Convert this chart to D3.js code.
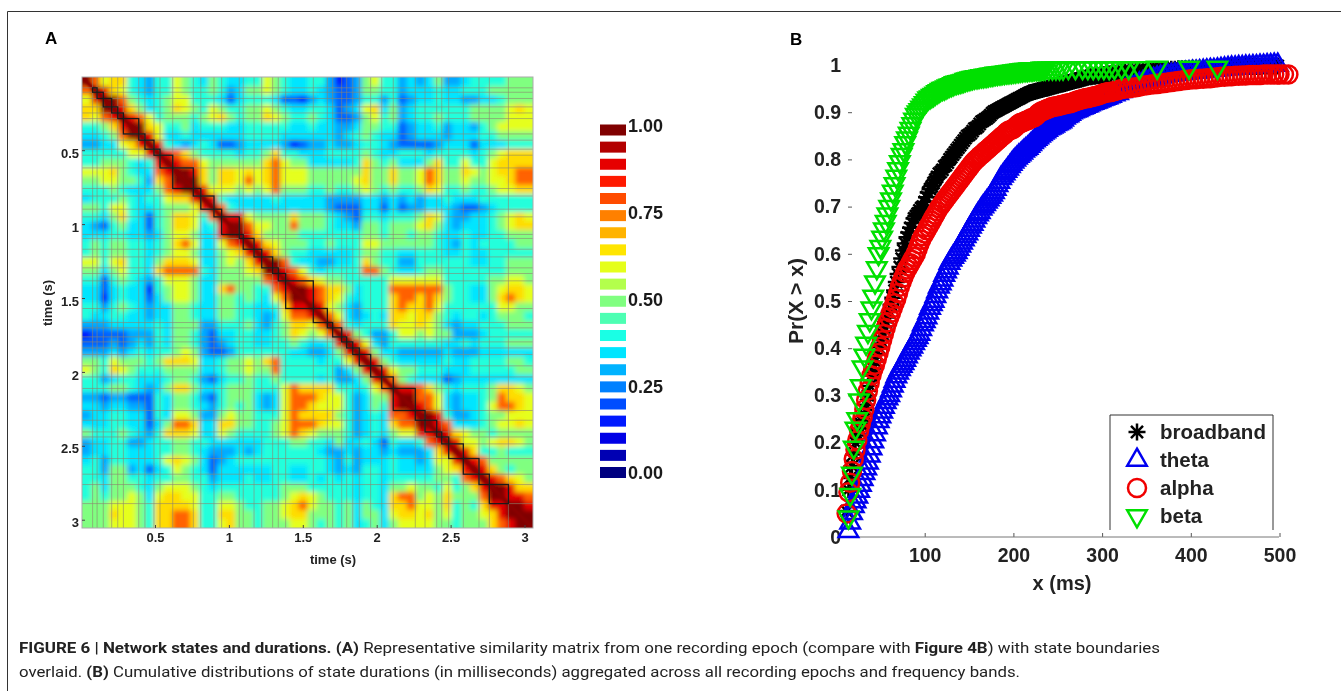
<!DOCTYPE html>
<html>
<head>
<meta charset="utf-8">
<script src="https://cdn.jsdelivr.net/npm/d3@7"></script>
<style>
html, body { margin: 0; padding: 0; background: #fff; }
svg { display: block; font-family: "Liberation Sans", Arial, sans-serif; filter: blur(0.45px); }
.caption { font-family: "Roboto", "Liberation Sans", sans-serif; font-size: 15px; fill: #222; }
</style>
</head>
<body>
<svg id="mainSvg" width="1341" height="691"></svg>
<script>
// upper triangle of the similarity matrix, one code per cell (row i starts at column i)
var similarityRows = [
"a867743244654354334465433" + "4420125644232352234444555",
"a97643244654454235565433" + "4321125544233343344455555",
"aa854345664443134443110" + "2321124424123343322334555",
"a975345765465445565433" + "4431236735234444445555676",
"a98645554567545576544" + "5431125645234454445555666",
"aa764453444334444433" + "4332235544123342332456666",
"a963343333334444333" + "3332345433123332333445555",
"a94323431123333201" + "2232234432111123331333444",
"a9875444434457443" + "3344445433444344443456777",
"a988655555578655" + "3333347545333574464467777",
"aa9757767678666" + "5555557557556875576567788",
"aa757768678666" + "5555567557556875565566788",
"a966656568555" + "4454456545445764454456677",
"a94333334333" + "3322223323232334333444444",
"a8433333333" + "3321113313122333211234444",
"a996555575" + "5543214434445763223345676",
"aa8665585" + "5543325545556753233345677",
"a9755554" + "4444445545545543343344555",
"a976555" + "4454446655555543243444455",
"a97544" + "3333345544334443343344444",
"aa843" + "3223347544224444443344555",
"a986" + "4344448854334554444444555",
"a98" + "7655444446666664444455665",
"aa" + "9877534448888885443356776",
"a" + "9876434447887875443357876",
"a965324447877864444446655",
"a86323437767754344345554",
"a8434447667653233444555",
"a954224665655222344444",
"a96324444443343444555",
"a953322222" + "3222333333",
"a954333334334444554",
"a96554443334444455",
"a8543331233333333",
"a998754344457765",
"aa8863233458776",
"a9863233468876",
"aa94223455666",
"a98333456676",
"a9765545555",
"a966567765",
"a97445444",
"a9855555",
"a975455",
"a98765",
"aa977",
"a998",
"aa9",
"aa",
"a"
];
// what each code above stands for
var levelValues = { "0": .14, "1": .22, "2": .29, "3": .35, "4": .41, "5": .5, "6": .6, "7": .66, "8": .78, "9": .9, "a": 1 };

// state boundaries in seconds, consecutive pairs are one black box
var stateEdges = [.078, .108, .15, .207, .248, .286, .39, .432, .493, .534, .62, .759, .81, .899, .951, 1.07, 1.097, 1.17, 1.222, 1.296, 1.334, 1.384, 1.571, 1.666, 1.702, 1.763, 1.797, 1.838, 1.882, 1.959, 2.034, 2.112, 2.261, 2.327, 2.406, 2.44, 2.487, 2.586, 2.692, 2.762, 2.891];

var timeTicks = [.5, 1, 1.5, 2, 2.5, 3];
var colorBarLevels = [1, .95, .9, .85, .8, .75, .7, .65, .6, .55, .5, .45, .4, .35, .3, .25, .2, .15, .1, .05, 0];
var colorBarTicks = [1, .75, .5, .25, 0];

var sampleMs = [
12,14,16,18,20,22,24,26,28,30,
32,34,36,38,40,42,44,46,48,50,
52,54,56,58,60,62,64,66,68,70,
72,74,76,78,80,82,84,86,88,90,
92,94,96,98,100,102,104,106,108,110,
112,114,116,118,120,122,124,126,128,130,
132,134,136,138,140,142,144,146,148,150,
152,154,156,158,160,162,164,166,168,170,
172,174,176,178,180,182,184,186,188,190,
192,194,196,198,200,202,204,206,208,210,
212,214,216,218,220,222,224,226,228,230,
232,234,236,238,240,242,244,246,248,250,
252,254,256,258,260,262,264,266,268,270,
272,274,276,278,280,282,284,286,288,290,
292,294,296,298,300,302,304,306,308,310,
314,318,322,326,330,334,338,342,346,350,
354,358,362,366,370,374,378,382,386,390,
394,398,402,406,410,414,418,422,426,430,
434,438,442,446,450,454,458,462,466,470,
474,478,482,486,490,494,498,500,505,510
];

var broadbandValues = [
.055,.1,.125,.15,.175,.2,.215,.23,.24,.245,
.26,.28,.3,.32,.342,.357,.372,.387,.402,.417,
.432,.445,.455,.465,.477,.492,.507,.522,.54,.557,
.572,.59,.607,.622,.635,.645,.655,.665,.675,.68,
.685,.692,.697,.7,.71,.72,.73,.737,.743,.75,
.757,.763,.77,.773,.778,.785,.788,.793,.8,.805,
.81,.815,.82,.825,.83,.835,.84,.845,.85,.852,
.855,.86,.865,.867,.87,.875,.88,.882,.885,.887,
.89,.894,.898,.901,.903,.905,.907,.909,.911,.913,
.915,.917,.919,.921,.923,.925,.927,.929,.931,.933,
.935,.937,.939,.941,.942,.943,.944,.945,.946,.947,
.948,.949,.95,.951,.952,.953,.954,.955,.956,.957,
.958,.959,.96,.961,.962,.963,.964,.965,.966,.967,
.968,.969,.97,.971,.972,.973,.974,.975,.975,.976,
.976,.977,.978,.978,.979,.98,.98,.981,.981,.982,
.983,.984,.985,.985,.986,.986,.987,.987,.988,.988,
.989,.989,.99,.99,.99,.99,.991,.991,.992,.992,
.992,.992,.993,.993,.993,.993,.994,.994,.994,.994,
.995,.995,.995,.996,.996,.996,.996,.997,.997,.997,
.997,.997,.998,.998,.998,.998,.998
];

var thetaValues = [
null,.012,.03,.05,.065,.075,.085,.097,.11,.122,
.135,.145,.157,.172,.187,.202,.217,.232,.245,.255,
.265,.275,.285,.293,.3,.31,.32,.33,.34,.348,
.355,.362,.368,.375,.382,.39,.397,.403,.41,.417,
.423,.43,.44,.45,.457,.465,.475,.485,.493,.5,
.51,.52,.53,.537,.545,.555,.562,.57,.58,.587,
.593,.598,.603,.61,.617,.623,.63,.637,.643,.65,
.657,.663,.67,.677,.683,.688,.695,.7,.705,.71,
.715,.72,.725,.73,.737,.745,.752,.76,.765,.77,
.775,.78,.785,.79,.795,.799,.803,.807,.81,.814,
.818,.821,.824,.828,.832,.836,.84,.843,.846,.85,
.853,.856,.859,.862,.865,.867,.869,.871,.874,.876,
.878,.88,.884,.888,.891,.893,.896,.899,.901,.903,
.904,.906,.908,.909,.911,.913,.914,.916,.918,.919,
.921,.922,.924,.925,.927,.928,.93,.931,.933,.934,
.937,.94,.944,.947,.951,.954,.957,.96,.963,.965,
.968,.97,.973,.975,.977,.978,.979,.98,.981,.982,
.983,.984,.985,.985,.986,.987,.988,.989,.989,.99,
.991,.992,.993,.994,.994,.995,.995,.996,.996,.997,
.997,.998,.998,.999,.999,1,1
];

var alphaValues = [
.05,.095,.115,.14,.165,.185,.205,.225,.24,.253,
.27,.29,.31,.327,.342,.355,.365,.377,.39,.403,
.417,.43,.443,.455,.465,.475,.485,.495,.505,.517,
.53,.54,.55,.56,.567,.573,.58,.587,.593,.6,
.61,.62,.63,.637,.643,.65,.657,.663,.67,.677,
.683,.69,.697,.702,.707,.712,.717,.722,.727,.732,
.737,.742,.747,.752,.757,.762,.767,.772,.777,.782,
.787,.792,.796,.8,.803,.807,.81,.813,.817,.82,
.823,.827,.83,.833,.837,.84,.843,.847,.85,.853,
.857,.86,.862,.863,.865,.868,.872,.875,.877,.878,
.88,.882,.883,.885,.887,.888,.89,.893,.897,.9,
.902,.903,.905,.907,.908,.91,.911,.912,.912,.913,
.914,.915,.916,.917,.918,.919,.919,.92,.922,.923,
.925,.926,.927,.928,.929,.93,.93,.931,.932,.933,
.934,.935,.936,.937,.939,.94,.941,.942,.943,.943,
.945,.947,.949,.95,.951,.952,.953,.954,.956,.957,
.958,.959,.96,.961,.962,.963,.964,.965,.966,.967,
.968,.969,.97,.97,.971,.971,.972,.972,.973,.974,
.975,.975,.976,.976,.977,.977,.978,.978,.979,.979,
.979,.979,.98,.98,.98,.98,.98,.98,.98,.98
];

var betaValues = [
null,.042,.09,.135,.19,.23,.25,.29,.32,.36,
.385,.41,.435,.46,.485,.51,.54,.57,.6,.615,
.635,.652,.668,.684,.7,.716,.732,.748,.764,.78,
.795,.81,.82,.835,.845,.855,.865,.875,.885,.895,
.9,.905,.91,.915,.92,.925,.93,.932,.935,.937,
.94,.943,.945,.948,.95,.951,.953,.955,.957,.958,
.96,.962,.963,.964,.965,.966,.967,.969,.97,.971,
.972,.973,.974,.975,.975,.976,.977,.977,.978,.978,
.979,.98,.98,.981,.982,.982,.983,.983,.984,.984,
.985,.985,.986,.986,.987,.987,.988,.988,.989,.989,
.99,.99,.99,.991,.991,.991,.992,.992,.992,.992,
.993,.993,.993,null,.993,null,.993,null,.993,null,
.993,null,.993,null,null,.994,null,null,null,.994,
null,null,null,.994,null,null,.994,null,null,.994,
null,null,.994,null,null,.994,null,null,.994,null,
.994,null,.994,null,.994,null,null,.994,null,null,
null,null,.995,null,null,null,null,null,null,null,
null,.995,null,null,null,null,null,null,null,.995
];

var durationTicks = [100, 200, 300, 400, 500];
var probabilityTicks = [0, .1, .2, .3, .4, .5, .6, .7, .8, .9, 1];
var legendLabels = ["broadband", "theta", "alpha", "beta"];
var bandColors = ["#000000", "#0000f0", "#f00000", "#00e000"];

var svg = d3.select("#mainSvg");

var jet = d3.scaleLinear()
    .domain([0, .125, .375, .625, .875, 1])
    .range(["#000080", "#0000ff", "#00ffff", "#ffff00", "#ff0000", "#800000"]);

// ---------- panel A ----------
var matrixX = d3.scaleBand().domain(d3.range(similarityRows.length)).range([82, 533]);
var matrixY = d3.scaleBand().domain(d3.range(similarityRows.length)).range([77, 528]);
var timeX = d3.scaleLinear().domain([0, 3.052]).range([81.1, 532.2]);
var timeY = d3.scaleLinear().domain([0, 3.052]).range([76.3, 527.4]);

var defs = svg.append("defs");
defs.append("filter").attr("id", "soft").attr("x", "-5%").attr("y", "-5%").attr("width", "110%").attr("height", "110%")
    .append("feGaussianBlur").attr("stdDeviation", 2.6);
defs.append("filter").attr("id", "softDiag").append("feGaussianBlur").attr("stdDeviation", 1);
defs.append("clipPath").attr("id", "matrixClip").append("rect")
    .attr("x", 82).attr("y", 77).attr("width", 451).attr("height", 451);

var cells = [];
similarityRows.forEach(function(row, i) {
    d3.range(similarityRows.length).forEach(function(j) {
        var a = Math.min(i, j), b = Math.max(i, j);
        cells.push({ row: i, col: j, value: levelValues[similarityRows[a][b - a]] });
    });
});

var matrixGroup = svg.append("g").attr("clip-path", "url(#matrixClip)");
var cellGroup = matrixGroup.append("g").attr("filter", "url(#soft)");
var pad = 14;  // edge cells run past the frame so the blur does not fade there
cellGroup.selectAll("rect").data(cells).enter().append("rect")
    .attr("x", function(d) { return matrixX(d.col) - (d.col == 0 ? pad : 0); })
    .attr("y", function(d) { return matrixY(d.row) - (d.row == 0 ? pad : 0); })
    .attr("width", function(d) { return matrixX.bandwidth() + 0.5 + (d.col == 0 || d.col == 49 ? pad : 0); })
    .attr("height", function(d) { return matrixY.bandwidth() + 0.5 + (d.row == 0 || d.row == 49 ? pad : 0); })
    .attr("fill", function(d) { return jet(d.value); });

matrixGroup.append("line")
    .attr("x1", timeX(0)).attr("y1", timeY(0)).attr("x2", timeX(3.052)).attr("y2", timeY(3.052))
    .attr("stroke", "#8a0000").attr("stroke-width", 3.5).attr("filter", "url(#softDiag)");

matrixGroup.selectAll(".edgeV").data(stateEdges).enter().append("line")
    .attr("class", "edgeV")
    .attr("x1", timeX).attr("x2", timeX).attr("y1", 77).attr("y2", 528)
    .attr("stroke", "#8c8470").attr("stroke-opacity", .6).attr("stroke-width", 1);
matrixGroup.selectAll(".edgeH").data(stateEdges).enter().append("line")
    .attr("class", "edgeH")
    .attr("y1", timeY).attr("y2", timeY).attr("x1", 82).attr("x2", 533)
    .attr("stroke", "#8c8470").attr("stroke-opacity", .6).attr("stroke-width", 1);

matrixGroup.selectAll(".state").data(stateEdges.slice(0, -1)).enter().append("rect")
    .attr("class", "state")
    .attr("x", function(d) { return timeX(d); })
    .attr("y", function(d) { return timeY(d); })
    .attr("width", function(d, i) { return timeX(stateEdges[i + 1]) - timeX(d); })
    .attr("height", function(d, i) { return timeY(stateEdges[i + 1]) - timeY(d); })
    .attr("fill", "none").attr("stroke", "#1a1a1a").attr("stroke-width", 1.3);

svg.append("rect").attr("x", 82).attr("y", 77).attr("width", 451).attr("height", 451)
    .attr("fill", "none").attr("stroke", "#aaa").attr("stroke-width", 1);

var timeAxisX = svg.append("g").attr("transform", "translate(0,528)")
    .call(d3.axisBottom(timeX).tickValues(timeTicks).tickFormat(function(d) { return d; }).tickSize(-3).tickPadding(5));
var timeAxisY = svg.append("g").attr("transform", "translate(82,0)")
    .call(d3.axisLeft(timeY).tickValues(timeTicks).tickFormat(function(d) { return d; }).tickSize(-3).tickPadding(3));
[timeAxisX, timeAxisY].forEach(function(a) {
    a.select(".domain").remove();
    a.selectAll("line").attr("stroke", "#444");
    a.selectAll("text").attr("font-size", 13).attr("font-weight", "bold").attr("fill", "#222");
});
timeAxisY.selectAll("text").attr("dy", "0.55em");

svg.append("text").attr("x", 333).attr("y", 564).attr("text-anchor", "middle")
    .attr("font-size", 13).attr("font-weight", "bold").attr("fill", "#222").text("time (s)");
svg.append("text").attr("transform", "translate(52,303) rotate(-90)").attr("text-anchor", "middle")
    .attr("font-size", 13).attr("font-weight", "bold").attr("fill", "#222").text("time (s)");
svg.append("text").attr("x", 45).attr("y", 44).attr("font-size", 17).attr("font-weight", "bold").text("A");

// colour key
var barY = d3.scaleLinear().domain([1, 0]).range([130, 472.5]);
var keyLabelY = d3.scaleLinear().domain([1, 0]).range([126, 473]);
svg.selectAll(".key").data(colorBarLevels).enter().append("rect")
    .attr("class", "key")
    .attr("x", 600).attr("width", 26)
    .attr("y", function(d) { return barY(d) - 5.5; })
    .attr("height", 11)
    .attr("fill", function(d) { return jet(d); });
svg.selectAll(".keyLabel").data(colorBarTicks).enter().append("text")
    .attr("class", "keyLabel")
    .attr("x", 628)
    .attr("y", function(d) { return keyLabelY(d); })
    .attr("dy", "0.36em")
    .attr("font-size", 18).attr("font-weight", "bold").attr("fill", "#1a1a1a")
    .text(function(d) { return d.toFixed(2); });

// ---------- panel B ----------
var durationX = d3.scaleLinear().domain([0, 500]).range([836, 1279.5]);
var probabilityY = d3.scaleLinear().domain([0, 1]).range([537, 65]);

var axisB = svg.append("g").attr("transform", "translate(0,537)")
    .call(d3.axisBottom(durationX).tickValues(durationTicks).tickSize(-4).tickPadding(11));
axisB.select(".domain").remove();
axisB.selectAll("line").attr("stroke", "#555");
axisB.selectAll("text").attr("font-size", 19.5).attr("font-weight", "bold").attr("fill", "#222");

svg.append("line").attr("x1", 848).attr("x2", 1279).attr("y1", 537).attr("y2", 537)
    .attr("stroke", "#777").attr("stroke-width", 1);

var axisL = svg.append("g").attr("transform", "translate(848,0)")
    .call(d3.axisLeft(probabilityY).tickValues(probabilityTicks).tickFormat(function(d) { return d; }).tickSize(-4).tickPadding(7));
axisL.select(".domain").remove();
axisL.selectAll("line").attr("stroke", "#555")
    .attr("stroke-opacity", function(d) { return d == 0 || d == 1 ? 0 : 1; });
axisL.selectAll("text").attr("font-size", 19.5).attr("font-weight", "bold").attr("fill", "#222");

var asterisk = {
    draw: function(context, size) {
        var r = Math.sqrt(size) / 2;
        [0, 45, 90, 135].forEach(function(a) {
            var c = Math.cos(a * Math.PI / 180) * r, s = Math.sin(a * Math.PI / 180) * r;
            context.moveTo(-c, -s);
            context.lineTo(c, s);
        });
    }
};
var markers = [
    d3.symbol().type(asterisk).size(289)(),
    d3.symbol().type(d3.symbolTriangle).size(165)(),
    d3.symbol().type(d3.symbolCircle).size(255)(),
    d3.symbol().type(d3.symbolTriangle).size(165)()
];
var markerTurn = [0, 0, 0, 180];

function drawBand(values, i) {
    var points = values.map(function(v, k) { return [sampleMs[k], v]; })
        .filter(function(d) { return d[1] != null; });
    svg.append("g").selectAll("path").data(points).enter().append("path")
        .attr("d", markers[i])
        .attr("transform", function(d) {
            return "translate(" + durationX(d[0]) + "," + probabilityY(d[1]) + ") rotate(" + markerTurn[i] + ")";
        })
        .attr("fill", "none")
        .attr("stroke", bandColors[i])
        .attr("stroke-width", 2.5);
}
[broadbandValues, thetaValues, alphaValues, betaValues].forEach(drawBand);

// legend, open at the bottom
svg.append("path").attr("d", d3.line()([[1110, 530], [1110, 415], [1273, 415], [1273, 530]]))
    .attr("fill", "none").attr("stroke", "#333").attr("stroke-width", 1);
var legendY = d3.scalePoint().domain(legendLabels).range([432, 516]);
legendLabels.forEach(function(name, i) {
    svg.append("path").attr("d", markers[i])
        .attr("transform", "translate(1137," + legendY(name) + ") rotate(" + markerTurn[i] + ")")
        .attr("fill", "none").attr("stroke", bandColors[i]).attr("stroke-width", 2.5);
    svg.append("text").attr("x", 1160).attr("y", legendY(name)).attr("dy", "0.36em")
        .attr("font-size", 20.5).attr("font-weight", "bold").attr("fill", "#222").text(name);
});

svg.append("text").attr("x", 1062).attr("y", 590).attr("text-anchor", "middle")
    .attr("font-size", 20).attr("font-weight", "bold").attr("fill", "#222").text("x (ms)");
svg.append("text").attr("transform", "translate(803,301) rotate(-90)").attr("text-anchor", "middle")
    .attr("font-size", 21).attr("font-weight", "bold").attr("fill", "#222").text("Pr(X > x)");
svg.append("text").attr("x", 790).attr("y", 45).attr("font-size", 17).attr("font-weight", "bold").text("B");

// ---------- frame and caption ----------
svg.append("path").attr("d", d3.line()([[7.5, 691], [7.5, 11.5], [1341, 11.5]]))
    .attr("fill", "none").attr("stroke", "#333").attr("stroke-width", 1);

var line1 = svg.append("text").attr("class", "caption").attr("x", 19).attr("y", 653)
    .attr("textLength", 1141).attr("lengthAdjust", "spacingAndGlyphs");
line1.append("tspan").attr("font-weight", "bold").text("FIGURE 6 | Network states and durations. (A)");
line1.append("tspan").text(" Representative similarity matrix from one recording epoch (compare with ");
line1.append("tspan").attr("font-weight", "bold").text("Figure 4B");
line1.append("tspan").text(") with state boundaries");

var line2 = svg.append("text").attr("class", "caption").attr("x", 19).attr("y", 677)
    .attr("textLength", 1001).attr("lengthAdjust", "spacingAndGlyphs");
line2.append("tspan").text("overlaid. ");
line2.append("tspan").attr("font-weight", "bold").text("(B)");
line2.append("tspan").text(" Cumulative distributions of state durations (in milliseconds) aggregated across all recording epochs and frequency bands.");
</script>
</body>
</html>
